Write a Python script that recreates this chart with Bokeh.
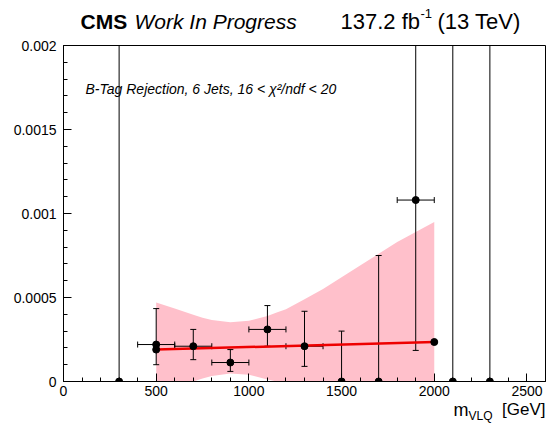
from bokeh.plotting import figure
from bokeh.models import Label, FixedTicker
from bokeh.layouts import column
from bokeh.embed import file_html
from bokeh.resources import INLINE

# data points (bin centres, values, error band edges)
pt_x = [300, 500, 700, 900, 1100, 1300, 1500, 1700, 1900, 2100, 2300]
pt_y = [0, 0.00022, 0.00021, 0.000113, 0.00031, 0.00021, 0, 0, 0.00108, 0, 0]
pt_ylo = [0, 0.0001, 0.00013, 0.00006, 0.00021, 0.00009, 0, 0, 0.000185, 0, 0]
pt_yhi = [0.003, 0.000434, 0.00031, 0.00019, 0.000452, 0.000418, 0.0003, 0.00075, 0.003, 0.003, 0.003]
pt_xlo = [300, 400, 600, 800, 1000, 1200, 1500, 1700, 1800, 2100, 2300]
pt_xhi = [300, 600, 800, 1000, 1200, 1400, 1500, 1700, 2000, 2100, 2300]

# fit endpoints
fit_x = [500, 2000]
fit_y = [0.00019, 0.000235]

# fit uncertainty band
band_x = [500, 600, 700, 750, 800, 900, 1000, 1100, 1150, 1200, 1300, 1400, 1500, 1600, 1700, 1800, 1900, 2000]
band_hi = [0.00047, 0.000434, 0.000398, 0.00038, 0.000366, 0.000353, 0.000362, 0.00039, 0.00041, 0.00043, 0.00049, 0.00055, 0.00062, 0.00069, 0.00076, 0.00083, 0.00089, 0.00095]
band_lo = [0, 0, 0, 0.000018, 0.000032, 0.000048, 0.00004, 0.000012, 0, 0, 0, 0, 0, 0, 0, 0, 0, 0]

y_ticks = [0, 0.0005, 0.001, 0.0015, 0.002]
y_tick_labels = ["0", "0.0005", "0.001", "0.0015", "0.002"]
x_ticks = [0, 500, 1000, 1500, 2000, 2500]

FONT = "Liberation Sans"
W = 547
HEAD_H = 36
TOP_B = 9
FRAME_H = 336
BOT_B = 20
MAIN_H = TOP_B + FRAME_H + BOT_B
FOOT_H = 427 - HEAD_H - MAIN_H
SHIFT = 5  # rendered baseline sits ~5px below the requested y


def text_strip(h):
    f = figure(width=W, height=h, x_range=(0, W), y_range=(0, h), output_backend="svg",
               toolbar_location=None, x_axis_type=None, y_axis_type=None, min_border=0)
    f.grid.visible = False
    f.outline_line_color = None
    f.background_fill_color = "white"
    f.border_fill_color = "white"
    return f


def lab(fig, cx, cy, text, size, style="normal", align="left"):
    fig.add_layout(Label(x=cx, y=cy - SHIFT, x_units="canvas", y_units="canvas", text=text,
                         text_font=FONT, text_font_size=size, text_font_style=style,
                         text_align=align, text_baseline="alphabetic", text_color="black"))


# ---- header ----
head = text_strip(HEAD_H)
lab(head, 80, 26, "CMS", "21px", "bold")
lab(head, 134, 26, "Work In Progress", "21px", "italic")
lab(head, 340, 26, "137.2 fb", "22px")
lab(head, 420, 18, "-1", "13px")
lab(head, 437, 26, "(13 TeV)", "22px")

# ---- main plot ----
p = figure(width=W, height=MAIN_H, x_range=(0, 2600), y_range=(0, 0.002),
           output_backend="svg", toolbar_location=None,
           min_border_left=63, min_border_right=2, min_border_top=TOP_B, min_border_bottom=BOT_B)
p.grid.visible = False
p.outline_line_color = "black"
p.outline_line_width = 1
p.background_fill_color = "white"
p.border_fill_color = "white"

for ax in (p.xaxis[0], p.yaxis[0]):
    ax.major_tick_in = 8
    ax.major_tick_out = 0
    ax.minor_tick_in = 4
    ax.minor_tick_out = 0
    ax.axis_line_color = "black"
    ax.major_tick_line_color = "black"
    ax.minor_tick_line_color = "black"
    ax.major_label_text_font = FONT
    ax.major_label_text_font_size = "14px"
    ax.major_label_text_color = "black"

p.yaxis[0].ticker = FixedTicker(ticks=y_ticks, minor_ticks=[i * 0.0001 for i in range(21)])
p.yaxis[0].major_label_overrides = {t: s for t, s in zip(y_ticks, y_tick_labels)}
p.yaxis[0].major_label_standoff = 7
p.xaxis[0].ticker = FixedTicker(ticks=x_ticks, minor_ticks=list(range(0, 2700, 100)))
p.xaxis[0].major_label_standoff = 4

# band
p.varea(x=band_x, y1=band_lo, y2=band_hi, fill_color="#ffc0cb", fill_alpha=1.0)

# error bars
p.segment(x0=pt_x, y0=pt_ylo, x1=pt_x, y1=pt_yhi, line_color="black", line_width=1)
p.segment(x0=pt_xlo, y0=pt_y, x1=pt_xhi, y1=pt_y, line_color="black", line_width=1)
cap_y_x = pt_x + pt_x
cap_y_y = pt_ylo + pt_yhi
p.scatter(x=cap_y_x, y=cap_y_y, marker="dash", size=6, line_color="black", line_width=1)
xe = [i for i in range(len(pt_x)) if pt_xhi[i] != pt_xlo[i]]
cap_x_x = [pt_xlo[i] for i in xe] + [pt_xhi[i] for i in xe]
cap_x_y = [pt_y[i] for i in xe] + [pt_y[i] for i in xe]
p.scatter(x=cap_x_x, y=cap_x_y, marker="dash", angle=1.5708, size=6, line_color="black", line_width=1)

# fit line
p.line(x=fit_x, y=fit_y, line_color="#ee0000", line_width=2.5)

# markers
p.scatter(x=fit_x, y=fit_y, size=7, fill_color="black", line_color="black")
p.scatter(x=pt_x, y=pt_y, size=7, fill_color="black", line_color="black")

lab(p, 85, 93 - HEAD_H, "B-Tag Rejection, 6 Jets, 16 < \u03c7\u00b2/ndf < 20", "14px", "italic")

# ---- footer (x-axis title) ----
foot = text_strip(FOOT_H)
y0 = HEAD_H + MAIN_H
lab(foot, 453, 414 - y0, "m", "18px")
lab(foot, 468, 420 - y0, "VLQ", "12px")
lab(foot, 545, 414 - y0, "[GeV]", "17px", "normal", "right")

layout = column(head, p, foot, spacing=0)
open("out.html", "w").write(file_html(layout, INLINE))
